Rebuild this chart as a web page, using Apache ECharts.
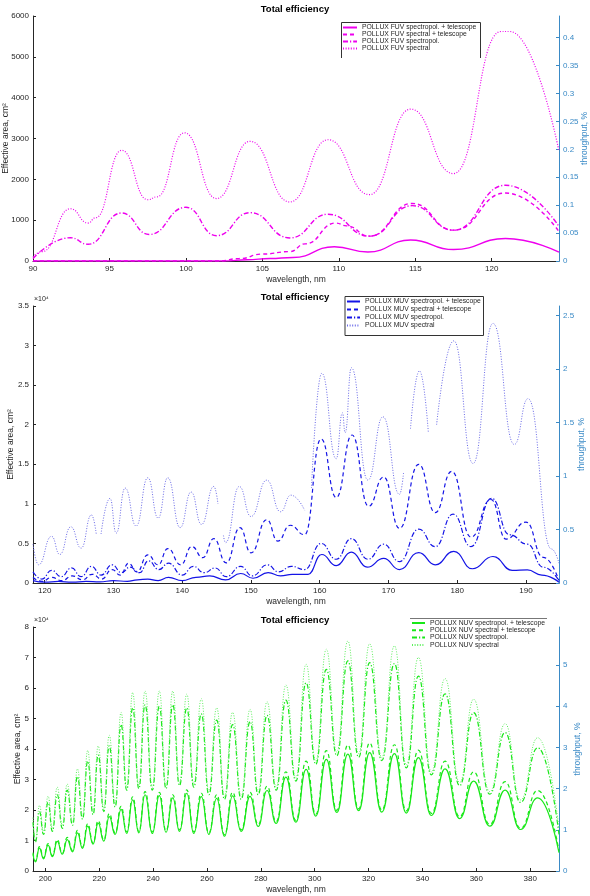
<!DOCTYPE html>
<html>
<head>
<meta charset="utf-8">
<script src="https://cdn.jsdelivr.net/npm/echarts@6/dist/echarts.min.js"></script>
<style>
  html, body { margin: 0; padding: 0; background: #fff; }
  #chart { width: 590px; height: 896px; }
</style>
</head>
<body>
<div id="chart"></div>
<script>
// ---- FUV panel (effective area, cm^2) ----
const fuvTicksX = [90, 95, 100, 105, 110, 115, 120]
const fuvTicksLeft = [0, 1000, 2000, 3000, 4000, 5000, 6000]
const fuvTicksRight = [0, 0.05, 0.1, 0.15, 0.2, 0.25, 0.3, 0.35, 0.4]
const fuvSpectropolTel = [[90, 0], [102.5, 0], [104, 30], [105.5, 60], [107, 85], [109.7, 350], [111.9, 220], [114.7, 515], [117.5, 280], [120.9, 550], [124.4, 215]]
const fuvSpectralTel = [[90, 0], [102.2, 0], [103.5, 60], [105, 170], [106.8, 230], [107.8, 420], [109.8, 930], [110.5, 860], [112.0, 610], [114.8, 1410], [117.5, 755], [120.9, 1665], [124.4, 720]]
const fuvSpectropol = [[90, 60], [92.45, 570], [93.6, 410], [95.8, 1175], [97.6, 650], [100.0, 1315], [102.0, 620], [104.2, 1185], [106.8, 565], [109.3, 1145], [112.0, 608], [114.8, 1355], [117.5, 755], [120.9, 1855], [124.4, 845]]
const fuvSpectral = [[90, 100], [90.6, 230], [92.45, 1280], [93.6, 930], [94.1, 1060], [95.8, 2710], [97.5, 1500], [98.1, 1570], [99.9, 3140], [102.0, 1530], [104.2, 2930], [106.8, 1445], [109.3, 2970], [112.0, 1625], [114.7, 3720], [117.5, 2140], [120.6, 5620], [121.2, 5620], [124.4, 2690]]

// ---- MUV panel (effective area, x10^4 cm^2) ----
const muvTicksX = [120, 130, 140, 150, 160, 170, 180, 190]
const muvTicksLeft = [0, 0.5, 1, 1.5, 2, 2.5, 3, 3.5]
const muvTicksRight = [0, 0.5, 1, 1.5, 2, 2.5]
const muvSpectropolTel = [[118.3, 0.03], [120, 0.01], [122, 0.02], [124, 0.01], [126, 0.02], [128, 0.015], [130, 0.03], [132, 0.02], [133.5, 0.04], [135, 0.05], [136.5, 0.03], [138, 0.07], [140, 0.03], [142, 0.07], [144, 0.09], [146.3, 0.04], [148.5, 0.12], [150.3, 0.06], [152.5, 0.13], [154.3, 0.09], [156, 0.11], [158.3, 0.11], [160.3, 0.36], [162.4, 0.22], [164.6, 0.39], [166.9, 0.2], [169.3, 0.31], [171.6, 0.17], [174.4, 0.385], [176.8, 0.23], [179.5, 0.4], [182.2, 0.18], [185.2, 0.335], [188, 0.16], [190.2, 0.165], [192.3, 0.1], [194.8, 0.01]]
const muvSpectralTel = [[118.3, 0.07], [119.6, 0.02], [121.0, 0.07], [122.5, 0.03], [124.0, 0.09], [125.5, 0.04], [126.9, 0.11], [128.3, 0.05], [129.8, 0.17], [131.0, 0.1], [132.2, 0.25], [133.4, 0.14], [135.0, 0.355], [136.5, 0.23], [137.9, 0.435], [139.8, 0.23], [141.4, 0.46], [143.0, 0.32], [144.6, 0.56], [146.4, 0.255], [148.4, 0.7], [150.0, 0.38], [152.3, 0.8], [153.9, 0.53], [155.7, 0.73], [157.8, 0.61], [160.2, 1.82], [162.4, 1.08], [164.7, 1.87], [167.1, 0.97], [169.3, 1.34], [171.6, 0.69], [174.4, 1.5], [176.8, 0.89], [179.2, 1.41], [182.0, 0.58], [184.9, 1.055], [187.1, 0.555], [190.0, 0.77], [192.5, 0.325], [194.8, 0.03]]
const muvSpectropol = [[118.3, 0.14], [119.6, 0.05], [121.0, 0.16], [122.4, 0.08], [123.9, 0.19], [125.3, 0.08], [126.8, 0.21], [128.2, 0.1], [129.8, 0.23], [131.2, 0.13], [132.4, 0.2], [133.8, 0.13], [135.1, 0.28], [136.6, 0.17], [138.0, 0.25], [140.0, 0.1], [141.6, 0.21], [143.2, 0.13], [144.8, 0.19], [146.4, 0.08], [148.5, 0.21], [150.2, 0.09], [152.4, 0.23], [154.0, 0.14], [155.9, 0.21], [157.8, 0.17], [160.2, 0.5], [162.4, 0.3], [164.6, 0.56], [167.0, 0.3], [169.3, 0.49], [171.6, 0.27], [174.4, 0.68], [176.8, 0.46], [179.4, 0.87], [182.0, 0.46], [185.0, 1.07], [187.6, 0.61], [190.2, 0.49], [192.5, 0.2], [194.8, 0.03]]
const muvSpectral = [[118.3, 0.49], [119.1, 0.23], [121.0, 0.59], [122.2, 0.36], [123.8, 0.71], [125.3, 0.44], [126.8, 0.86], [127.5, 0.62], [127.8, '-'], [128.2, 0.62], [129.5, 1.07], [130.4, 0.63], [131.7, 1.2], [133.3, 0.72], [135.0, 1.33], [136.5, 0.82], [137.9, 1.33], [139.7, 0.7], [141.3, 1.15], [142.8, 0.74], [144.6, 1.22], [145.2, 1.0], [145.6, '-'], [146.0, 0.6], [146.3, 0.51], [148.3, 1.22], [150.0, 0.84], [152.3, 1.3], [154.3, 0.9], [155.8, 1.11], [157.8, 0.92], [158.3, '-'], [158.8, 1.2], [160.3, 2.65], [162.4, 1.57], [163.3, 2.15], [163.7, 1.9], [164.6, 2.72], [167.0, 1.3], [169.2, 2.1], [171.6, 1.12], [172.2, 1.4], [172.6, '-'], [173.2, 1.95], [174.5, 2.68], [175.8, 1.9], [176.3, '-'], [177.0, 2.0], [179.5, 3.06], [182.3, 1.51], [185.2, 3.28], [188.3, 1.75], [190.3, 2.33], [193.7, 0.43], [194.8, 0.25]]

// ---- NUV panel (effective area, x10^4 cm^2), read at fringe extrema ----
const nuvTicksX = [200, 220, 240, 260, 280, 300, 320, 340, 360, 380]
const nuvTicksLeft = [0, 1, 2, 3, 4, 5, 6, 7, 8]
const nuvTicksRight = [0, 1, 2, 3, 4, 5]
const nuvWl = [195.4, 196.3, 197.8, 199.3, 201.0, 202.6, 204.4, 206.3, 208.1, 210.1, 211.9, 213.8, 215.7, 217.7, 219.6, 221.7, 223.7, 225.9, 228.1, 230.2, 232.4, 234.7, 237.0, 239.7, 242.3, 244.8, 247.3, 249.8, 252.5, 255.1, 257.9, 260.7, 263.6, 266.5, 269.5, 272.7, 276.0, 279.0, 282.3, 285.7, 289.3, 293.0, 296.8, 300.4, 304.3, 308.2, 312.3, 316.3, 320.4, 324.9, 329.6, 334.0, 338.5, 343.3, 348.4, 353.8, 359.0, 365.0, 370.7, 376.4, 382.8, 390.7]
const nuvSpectral = [1.75, 1.0, 2.15, 1.3, 2.45, 1.4, 2.75, 1.5, 2.85, 1.6, 3.35, 1.8, 3.95, 1.95, 4.1, 2.05, 4.45, 2.2, 5.2, 2.75, 5.85, 2.8, 5.9, 2.75, 5.9, 2.8, 5.9, 2.9, 5.8, 2.85, 5.65, 2.6, 5.35, 2.45, 5.2, 2.45, 5.3, 2.6, 5.55, 2.75, 6.1, 3.06, 6.78, 3.6, 7.27, 3.9, 7.54, 3.85, 7.45, 3.72, 7.38, 3.48, 7.0, 3.25, 6.31, 2.9, 5.63, 2.6, 4.83, 2.33, 4.37, 1.4]
const nuvSpectropol = [1.6, 0.95, 1.95, 1.2, 2.25, 1.3, 2.5, 1.4, 2.65, 1.5, 3.1, 1.7, 3.6, 1.85, 3.8, 1.95, 4.1, 2.1, 4.8, 2.65, 5.35, 2.7, 5.45, 2.65, 5.4, 2.7, 5.45, 2.8, 5.35, 2.75, 5.15, 2.5, 4.95, 2.35, 4.8, 2.35, 4.9, 2.5, 5.1, 2.65, 5.6, 2.95, 6.17, 3.5, 6.61, 3.78, 6.89, 3.73, 6.83, 3.62, 6.8, 3.38, 6.39, 3.15, 5.81, 2.8, 5.19, 2.52, 4.54, 2.25, 4.04, 1.2]
const nuvSpectralTel = [0.6, 0.32, 0.8, 0.43, 0.9, 0.5, 1.03, 0.58, 1.1, 0.67, 1.33, 0.78, 1.55, 0.92, 1.65, 1.02, 1.88, 1.25, 2.12, 1.28, 2.43, 1.3, 2.6, 1.28, 2.58, 1.32, 2.5, 1.35, 2.66, 1.28, 2.55, 1.25, 2.5, 1.19, 2.58, 1.35, 2.58, 1.52, 2.78, 1.62, 3.25, 1.66, 3.6, 1.86, 3.95, 1.99, 4.13, 2.04, 4.2, 2.0, 4.14, 1.97, 3.96, 1.89, 3.6, 1.78, 3.25, 1.53, 2.93, 1.4, 2.64, 0.66]
const nuvSpectropolTel = [0.55, 0.3, 0.75, 0.4, 0.85, 0.47, 0.97, 0.55, 1.03, 0.63, 1.25, 0.74, 1.47, 0.88, 1.57, 0.98, 1.78, 1.2, 2.02, 1.23, 2.33, 1.25, 2.5, 1.23, 2.47, 1.27, 2.4, 1.3, 2.55, 1.23, 2.44, 1.2, 2.38, 1.14, 2.46, 1.3, 2.45, 1.46, 2.64, 1.56, 3.08, 1.6, 3.33, 1.8, 3.66, 1.92, 3.83, 1.98, 3.88, 1.93, 3.85, 1.9, 3.72, 1.82, 3.35, 1.72, 2.95, 1.47, 2.65, 1.36, 2.4, 0.6]

const FONT = 'Liberation Sans, Arial, Helvetica, sans-serif'
const INK = '#262626'
const BLUE_AXIS = '#3a8ac6'
const DASH = { solid: 'solid', dashed: [4, 3], dashdot: [5, 2, 1.2, 2], dotted: [1, 1.6] }

function zip(xs, ys) {
  return xs.map((x, i) => [x, ys[i]])
}

function curve(name, data, panel, color, type, width) {
  return {
    name: name, type: 'line', data: data,
    xAxisIndex: panel, yAxisIndex: panel * 2,
    symbol: 'none', showSymbol: false,
    smooth: 0.5, smoothMonotone: 'x',
    connectNulls: false,
    lineStyle: { color: color, width: width, type: type },
    itemStyle: { color: color },
    silent: true
  }
}

function xAxisFor(panel, min, max, ticks) {
  return {
    type: 'value', gridIndex: panel, min: min, max: max,
    name: 'wavelength, nm', nameLocation: 'middle', nameGap: 14, nameMoveOverlap: false,
    nameTextStyle: { fontSize: 8.5, color: INK, fontFamily: FONT },
    axisLine: { onZero: false, lineStyle: { color: INK, width: 1 } },
    axisTick: { inside: true, length: 3, customValues: ticks, lineStyle: { color: INK } },
    axisLabel: { customValues: ticks, fontSize: 8, color: INK, margin: 4, fontFamily: FONT },
    splitLine: { show: false }
  }
}

function leftAxisFor(panel, max, ticks, nameGap) {
  return {
    type: 'value', gridIndex: panel, position: 'left', min: 0, max: max,
    name: 'Effective area, cm²', nameLocation: 'middle', nameRotate: 90, nameGap: nameGap, nameMoveOverlap: false,
    nameTextStyle: { fontSize: 8.5, color: INK, fontFamily: FONT },
    axisLine: { show: true, onZero: false, lineStyle: { color: INK, width: 1 } },
    axisTick: { show: true, inside: true, length: 3, customValues: ticks, lineStyle: { color: INK } },
    axisLabel: { customValues: ticks, fontSize: 8, color: INK, margin: 4, fontFamily: FONT, formatter: v => String(v) },
    splitLine: { show: false }
  }
}

function rightAxisFor(panel, max, ticks, nameGap) {
  return {
    type: 'value', gridIndex: panel, position: 'right', min: 0, max: max,
    name: 'throughput, %', nameLocation: 'middle', nameRotate: 90, nameGap: nameGap, nameMoveOverlap: false,
    nameTextStyle: { fontSize: 8.5, color: BLUE_AXIS, fontFamily: FONT },
    axisLine: { show: true, onZero: false, lineStyle: { color: BLUE_AXIS, width: 1 } },
    axisTick: { show: true, inside: true, length: 3, customValues: ticks, lineStyle: { color: BLUE_AXIS } },
    axisLabel: { customValues: ticks, fontSize: 8, color: BLUE_AXIS, margin: 4, fontFamily: FONT, formatter: v => String(v) },
    splitLine: { show: false }
  }
}

function legendFor(names, left, top, itemWidth, gap) {
  return {
    data: names, orient: 'vertical', left: left, top: top,
    padding: 0, itemGap: gap, itemWidth: itemWidth, itemHeight: 8,
    itemStyle: { opacity: 0 },
    textStyle: { fontSize: 6.8, color: INK, fontFamily: FONT },
    selectedMode: false
  }
}

const FUV = '#ee00ee', MUV = '#1414e6', NUV = '#18e818'
const fuvNames = ['POLLUX FUV spectropol. + telescope', 'POLLUX FUV spectral + telescope', 'POLLUX FUV spectropol.', 'POLLUX FUV spectral']
const muvNames = ['POLLUX MUV spectropol. + telescope', 'POLLUX MUV spectral + telescope', 'POLLUX MUV spectropol.', 'POLLUX MUV spectral']
const nuvNames = ['POLLUX NUV spectropol. + telescope', 'POLLUX NUV spectral + telescope', 'POLLUX NUV spectropol.', 'POLLUX NUV spectral']

const chart = echarts.init(document.getElementById('chart'), null, { renderer: 'canvas' })

chart.setOption({
  animation: false,
  backgroundColor: '#fff',
  textStyle: { fontFamily: FONT },
  title: [
    { text: 'Total efficiency', left: 'center', top: 4, padding: 0, textStyle: { fontSize: 9.5, fontWeight: 'bold', color: '#000' } },
    { text: 'Total efficiency', left: 'center', top: 292, padding: 0, textStyle: { fontSize: 9.5, fontWeight: 'bold', color: '#000' } },
    { text: 'Total efficiency', left: 'center', top: 615, padding: 0, textStyle: { fontSize: 9.5, fontWeight: 'bold', color: '#000' } }
  ],
  grid: [
    { left: 33, right: 31, top: 16, height: 245, containLabel: false, outerBoundsMode: 'none' },
    { left: 33, right: 31, top: 306, height: 277, containLabel: false, outerBoundsMode: 'none' },
    { left: 33, right: 31, top: 627, height: 244, containLabel: false, outerBoundsMode: 'none' }
  ],
  legend: [
    legendFor(fuvNames, 342, 24, 14, 0),
    legendFor(muvNames, 346, 298, 13, 1),
    legendFor(nuvNames, 411, 619.5, 13, 0.3)
  ],
  xAxis: [
    xAxisFor(0, 90, 124.4, fuvTicksX),
    xAxisFor(1, 118.3, 194.8, muvTicksX),
    xAxisFor(2, 195.4, 390.7, nuvTicksX)
  ],
  yAxis: [
    leftAxisFor(0, 6000, fuvTicksLeft, 22.5),
    rightAxisFor(0, 0.4388, fuvTicksRight, 21),
    leftAxisFor(1, 3.5, muvTicksLeft, 17.5),
    rightAxisFor(1, 2.587, muvTicksRight, 18),
    leftAxisFor(2, 8, nuvTicksLeft, 10.5),
    rightAxisFor(2, 5.92, nuvTicksRight, 14)
  ],
  graphic: [
    { type: 'polyline', silent: true, shape: { points: [[341.5, 58], [341.5, 22.5], [480.5, 22.5], [480.5, 58]] }, style: { stroke: '#333', lineWidth: 1, fill: null } },
    { type: 'rect', silent: true, shape: { x: 345, y: 296.5, width: 138.5, height: 39 }, style: { stroke: '#333', lineWidth: 1, fill: 'none' } },
    { type: 'line', silent: true, shape: { x1: 410, y1: 618.5, x2: 547, y2: 618.5 }, style: { stroke: '#777', lineWidth: 1 } },
    { type: 'text', silent: true, left: 34, top: 296, style: { text: '×10⁴', fontSize: 7, fill: INK, fontFamily: FONT } },
    { type: 'text', silent: true, left: 34, top: 617, style: { text: '×10⁴', fontSize: 7, fill: INK, fontFamily: FONT } }
  ],
  series: [
    curve(fuvNames[0], fuvSpectropolTel, 0, FUV, DASH.solid, 1.4),
    curve(fuvNames[1], fuvSpectralTel, 0, FUV, DASH.dashed, 1.4),
    curve(fuvNames[2], fuvSpectropol, 0, FUV, DASH.dashdot, 1.4),
    curve(fuvNames[3], fuvSpectral, 0, FUV, DASH.dotted, 1.2),
    curve(muvNames[0], muvSpectropolTel, 1, MUV, DASH.solid, 1.2),
    curve(muvNames[1], muvSpectralTel, 1, MUV, DASH.dashed, 1.2),
    curve(muvNames[2], muvSpectropol, 1, MUV, DASH.dashdot, 1.2),
    curve(muvNames[3], muvSpectral, 1, '#6a6ae8', DASH.dotted, 1),
    curve(nuvNames[0], zip(nuvWl, nuvSpectropolTel), 2, NUV, DASH.solid, 1.2),
    curve(nuvNames[1], zip(nuvWl, nuvSpectralTel), 2, NUV, DASH.dashed, 1.2),
    curve(nuvNames[2], zip(nuvWl, nuvSpectropol), 2, NUV, DASH.dashdot, 1.2),
    curve(nuvNames[3], zip(nuvWl, nuvSpectral), 2, '#5ef05e', DASH.dotted, 1)
  ]
})
</script>
</body>
</html>
